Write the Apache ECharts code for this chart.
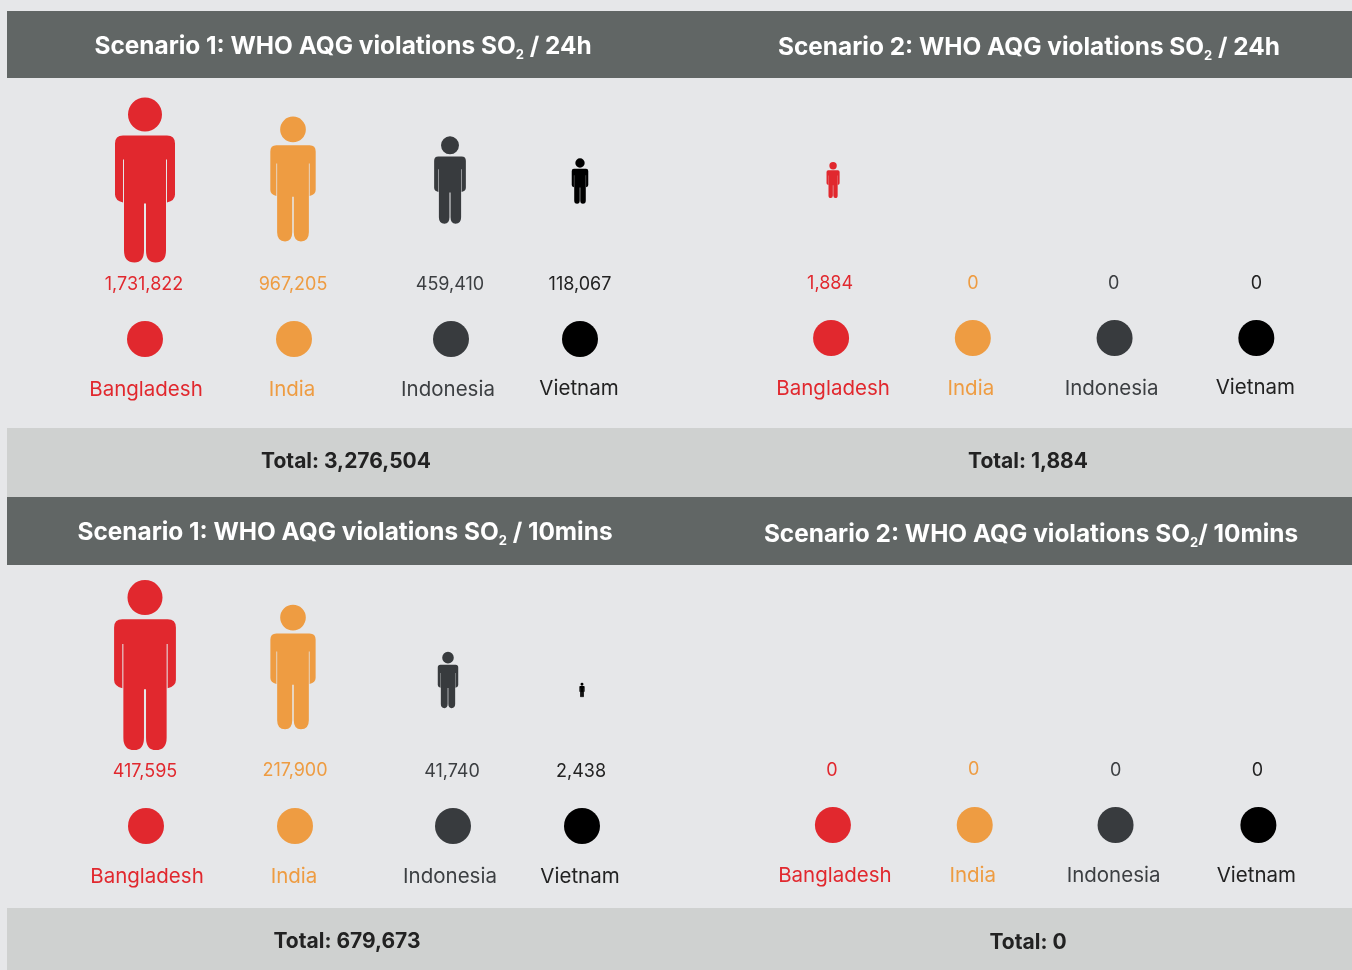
<!DOCTYPE html>
<html>
<head>
<meta charset="utf-8">
<title>WHO AQG violations SO2</title>
<script src="https://cdn.jsdelivr.net/npm/echarts@6/dist/echarts.min.js"></script>
<style>
  html, body { margin: 0; padding: 0; background: #e6e7e9; }
  #chart { width: 1352px; height: 970px; }
</style>
</head>
<body>
<div id="chart"></div>
<script>
const countries = ['Bangladesh', 'India', 'Indonesia', 'Vietnam']
const rows = ['figure', 'gap', 'count', 'marker', 'name']

const scenario1Day = [1731822, 967205, 459410, 118067]
const scenario2Day = [1884, 0, 0, 0]
const scenario1Ten = [417595, 217900, 41740, 2438]
const scenario2Ten = [0, 0, 0, 0]

const panelTitles = [
  'Scenario 1: WHO AQG violations SO{sub|2} / 24h',
  'Scenario 2: WHO AQG violations SO{sub|2} / 24h',
  'Scenario 1: WHO AQG violations SO{sub|2} / 10mins',
  'Scenario 2: WHO AQG violations SO{sub|2}/ 10mins'
]
const panelTotals = ['3,276,504', '1,884', '679,673', '0']

const colors = ['#e1282e', '#ee9c42', '#383b3e', '#000000']
const textColors = ['#e1282e', '#ee9c42', '#3c3f42', '#222222']
const FONT = 'Inter'

// person pictogram, 60 x 165 units
const PERSON = 'path://M13 17a17 17 0 1 0 34 0a17 17 0 1 0 -34 0zM8 38H52Q60 38 60 46V97Q60 103 52 105V62H51V153Q51 165 40.5 165Q31 165 31 153V106H29V153Q29 165 19.5 165Q9 165 9 153V62H8V105Q0 103 0 97V46Q0 38 8 38Z'
const PERSON_RATIO = 60 / 165
const FIGURE_POWER = 0.48

// layout only: grid box, tallest figure, title anchors and small per-row nudges
const panels = [
  {
    values: scenario1Day, grid: { left: 72.5, width: 580, top: 154, height: 260 }, maxFigure: 165,
    title: [338, 42], total: [341, 457],
    figure: [[0, 0], [3, -1], [15, 0], [0, 1]], count: [[-1, 1], [3, 1], [15, 1], [0, 1]],
    marker: [[0, 3], [4, 3], [16, 3], [0, 3]], name: [[1, 2], [2, 2], [13, 2], [-1, 1]]
  },
  {
    values: scenario2Day, grid: { left: 760.2, width: 567, top: 154, height: 260 }, maxFigure: 36,
    title: [1024, 43], total: [1023, 457],
    figure: [[2, 0], [0, 0], [0, 0], [0, 0]], count: [[-1, 0], [0, 0], [-1, 0], [0, 0]],
    marker: [[0, 2], [0, 2], [0, 2], [0, 2]], name: [[2, 1], [-2, 1], [-3, 1], [-1, 0]]
  },
  {
    values: scenario1Ten, grid: { left: 73.5, width: 580, top: 638.5, height: 265 }, maxFigure: 170,
    title: [340, 528], total: [342, 937],
    figure: [[-1, 0], [2, 2], [12, 15], [1, 25]], count: [[-1, 1], [4, 0], [16, 1], [0, 1]],
    marker: [[0, 2], [4, 2], [17, 2], [1, 2]], name: [[1, 0], [3, 0], [14, 0], [-1, 0]]
  },
  {
    values: scenario2Ten, grid: { left: 762, width: 567.3, top: 638.5, height: 265 }, maxFigure: 0,
    title: [1026, 530], total: [1023, 938],
    figure: [[0, 0], [0, 0], [0, 0], [0, 0]], count: [[-1, 0], [-1, -1], [-1, 0], [-1, 0]],
    marker: [[0, 1], [0, 1], [-1, 1], [0, 1]], name: [[2, -1], [-2, -1], [-3, -1], [-2, -1]]
  }
]

const labelSeries = (p, i, rowName, offsets, fontSize, text) => ({
  type: 'scatter',
  xAxisIndex: i,
  yAxisIndex: i,
  symbolSize: 0,
  silent: true,
  itemStyle: { opacity: 1 },
  data: countries.map((c, k) => ({
    value: [c, rowName],
    label: {
      show: true,
      position: 'inside',
      offset: offsets[k],
      formatter: text(k),
      color: textColors[k],
      opacity: 1,
      fontFamily: FONT,
      fontSize
    }
  }))
})

const series = []
panels.forEach((p, i) => {
  const top = Math.max(...p.values)
  series.push({
    type: 'scatter',
    xAxisIndex: i,
    yAxisIndex: i,
    silent: true,
    data: countries.map((c, k) => {
      const h = top ? p.maxFigure * Math.pow(p.values[k] / top, FIGURE_POWER) : 0
      return {
        value: [c, 'figure'],
        symbol: PERSON,
        symbolSize: [h * PERSON_RATIO, h],
        symbolOffset: p.figure[k],
        itemStyle: { color: colors[k], opacity: 1 }
      }
    })
  })
  series.push(labelSeries(p, i, 'count', p.count, 18, k => p.values[k].toLocaleString('en-US')))
  series.push({
    type: 'scatter',
    xAxisIndex: i,
    yAxisIndex: i,
    silent: true,
    symbolSize: 36,
    data: countries.map((c, k) => ({
      value: [c, 'marker'],
      symbolOffset: p.marker[k],
      itemStyle: { color: colors[k], opacity: 1 }
    }))
  })
  series.push(labelSeries(p, i, 'name', p.name, 20.5, k => countries[k]))
})

const titles = []
panels.forEach((p, i) => {
  titles.push({
    text: panelTitles[i],
    left: p.title[0],
    top: p.title[1],
    textAlign: 'center',
    textVerticalAlign: 'middle',
    textStyle: {
      color: '#ffffff',
      fontFamily: FONT,
      fontSize: 24.4,
      fontWeight: 700,
      rich: {
        sub: { color: '#ffffff', fontFamily: FONT, fontSize: 13, fontWeight: 700, padding: [17, 0, 0, 0] }
      }
    }
  })
  titles.push({
    text: 'Total: ' + panelTotals[i],
    left: p.total[0],
    top: p.total[1],
    textAlign: 'center',
    textVerticalAlign: 'middle',
    textStyle: { color: '#222222', fontFamily: FONT, fontSize: 21, fontWeight: 700 }
  })
})

const bands = [
  [7, 11, 1345, 67, '#616665'],
  [7, 428, 1345, 69, '#cfd1d0'],
  [7, 497, 1345, 68, '#616665'],
  [7, 908, 1345, 62, '#cfd1d0']
]

const chart = echarts.init(document.getElementById('chart'))
chart.setOption({
  backgroundColor: '#e6e7e9',
  animation: false,
  graphic: bands.map(b => ({
    type: 'rect',
    silent: true,
    shape: { x: b[0], y: b[1], width: b[2], height: b[3] },
    style: { fill: b[4] }
  })),
  title: titles,
  tooltip: { show: false },
  grid: panels.map(p => p.grid),
  xAxis: panels.map((p, i) => ({ type: 'category', gridIndex: i, data: countries, show: false })),
  yAxis: panels.map((p, i) => ({ type: 'category', gridIndex: i, data: rows, inverse: true, show: false })),
  series
})
</script>
</body>
</html>
